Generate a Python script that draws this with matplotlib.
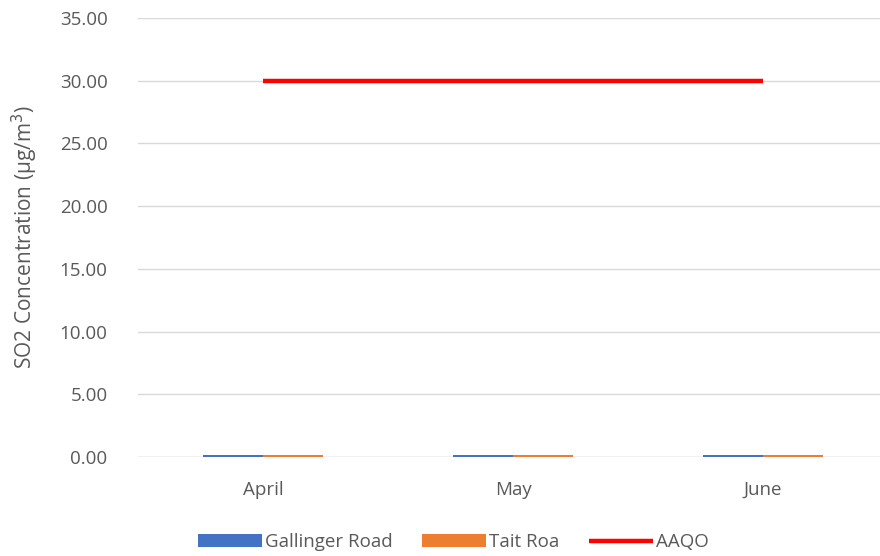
import matplotlib
matplotlib.use("Agg")
import matplotlib.pyplot as plt
import numpy as np

months = ["April", "May", "June"]
gallinger_road = [0.2, 0.2, 0.2]
tait_road = [0.2, 0.2, 0.2]
aaqo = [30.0, 30.0, 30.0]
y_ticks = [0, 5, 10, 15, 20, 25, 30, 35]

plt.rcParams['font.family'] = ['Open Sans', 'DejaVu Sans']
text_color = "#595959"

fig = plt.figure(figsize=(8.8, 5.56), dpi=100)
ax = fig.add_axes([0.157, 0.178, 0.852, 0.79])

x = np.arange(len(months))
w = 0.24
b1 = ax.bar(x - w / 2, gallinger_road, width=w, color="#4472C4", label="Gallinger Road", zorder=3)
b2 = ax.bar(x + w / 2, tait_road, width=w, color="#ED7D31", label="Tait Roa", zorder=3)
l1, = ax.plot(x, aaqo, color="#FF0000", linewidth=3.2, label="AAQO", zorder=4, solid_capstyle="butt")

ax.set_xlim(-0.5, 2.5)
ax.set_ylim(0, 35)
ax.set_yticks(y_ticks)
ax.set_yticklabels([f"{v:.2f}" for v in y_ticks])
ax.set_xticks(x)
ax.set_xticklabels(months)
ax.tick_params(axis="both", length=0, colors=text_color, labelsize=13.5)
ax.tick_params(axis="x", pad=17)
ax.tick_params(axis="y", pad=22)
ax.yaxis.grid(True, color="#D9D9D9", linewidth=1, zorder=0)
for s in ax.spines.values():
    s.set_visible(False)
ax.axhline(0, color="#D9D9D9", linewidth=1, zorder=1)

ax.set_ylabel("SO2 Concentration (μg/m$^3$)", color=text_color, fontsize=15, labelpad=14)

leg = fig.legend(handles=[b1, b2, l1], loc="lower center", bbox_to_anchor=(0.515, -0.022), ncol=3,
                 frameon=False, fontsize=13.5, handlelength=3.4, handleheight=0.7,
                 columnspacing=1.6, handletextpad=0.15)
for t in leg.get_texts():
    t.set_color(text_color)

fig.savefig("out.png", dpi=100)
